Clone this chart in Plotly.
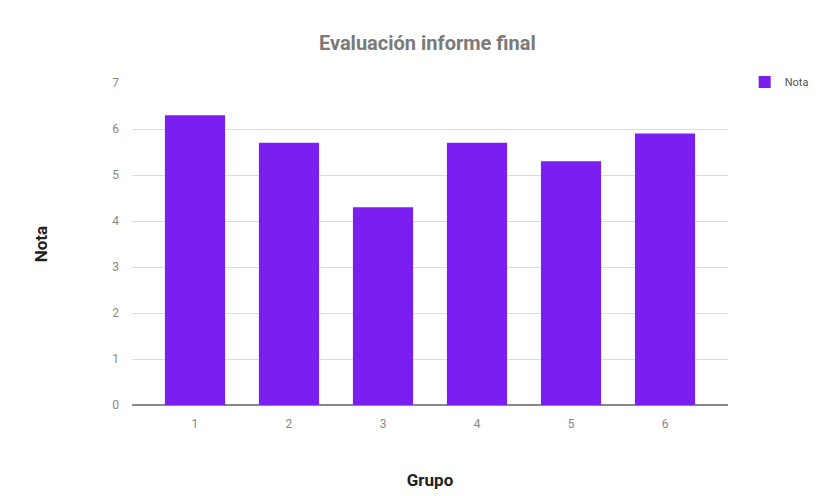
import plotly.graph_objects as go

grupos = ["1", "2", "3", "4", "5", "6"]
notas = [6.3, 5.7, 4.3, 5.7, 5.3, 5.9]
serie = "Nota"
titulo = "Evaluación informe final"
y_ticks = [0, 1, 2, 3, 4, 5, 6, 7]

fig = go.Figure()
fig.add_trace(go.Bar(
    x=grupos, y=notas, name=serie,
    marker=dict(color="#7a1ff0", line=dict(width=0)),
    showlegend=True,
))

fig.update_layout(
    width=825, height=496,
    margin=dict(l=132, r=97, t=83, b=91, autoexpand=False),
    paper_bgcolor="white", plot_bgcolor="white",
    font=dict(family="Roboto, Arial, sans-serif", color="#777777"),
    title=dict(text="<b>" + titulo + "</b>", x=0.518, xanchor="center", y=0.913, yanchor="middle",
               font=dict(size=20, color="#7a7a7a", family="Roboto, Arial, sans-serif")),
    bargap=0.36,
    legend=dict(x=1.028, y=1.048, xanchor="left", yanchor="top",
                font=dict(size=11, color="#555555"), itemwidth=30,
                bgcolor="rgba(0,0,0,0)"),
    xaxis=dict(
        title=dict(text="<b>Grupo</b>", font=dict(size=17, color="#222222"), standoff=44),
        tickfont=dict(size=12, color="#888888"),
        range=[-0.67, 5.67], automargin=False,
        showgrid=False, showline=False, ticks="", ticklabelstandoff=10,
    ),
    yaxis=dict(
        title=dict(text="<b>Nota</b>", font=dict(size=17, color="#222222"), standoff=60),
        range=[0, 7], tickvals=y_ticks, automargin=False,
        tickfont=dict(size=12, color="#888888"),
        showgrid=True, gridcolor="#dddddd", gridwidth=1,
        zeroline=True, zerolinecolor="#888888", zerolinewidth=1.5,
        ticks="", ticklabelstandoff=12,
    ),
)

fig.write_html("out.html")
